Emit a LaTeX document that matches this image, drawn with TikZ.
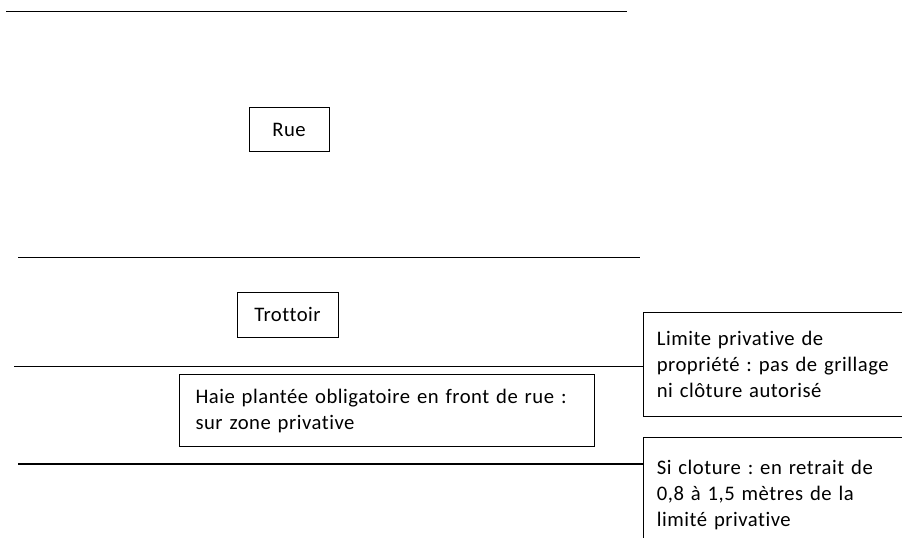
\documentclass[tikz,border=0pt]{standalone}
\usepackage{fontspec}
\setmainfont{Carlito}[LetterSpace=2.5, WordSpace=0.6, Ligatures=NoCommon]
\frenchspacing
\usetikzlibrary{positioning}

\tikzset{
  box/.style={draw, line width=0.75pt, inner sep=0pt, font=\fontsize{15.5}{19.5}\selectfont},
  textbox/.style={box, anchor=north west, align=left, inner xsep=10pt},
  limit/.style={line width=1pt}
}

\begin{document}
\begin{tikzpicture}[x=0.75pt, y=-0.75pt]
  \useasboundingbox (0,0) rectangle (902,538);
  % lignes de la rue
  \coordinate (l1a) at (6,11.5);
  \coordinate (l1b) at (627,11.5);
  \coordinate (l2a) at (18,257.5);
  \coordinate (l2b) at (640,257.5);
  \coordinate (l3) at (14,366.5);
  \coordinate (l4) at (18,464);
  % boites
  \node[box, minimum width=60pt, minimum height=33pt] (rue) at (289,130) {Rue};
  \node[box, minimum width=75.75pt, minimum height=33.75pt] (trottoir) at (287.5,314.5) {Trottoir};
  \node[textbox, text width=287.25pt, inner xsep=12pt, minimum height=54pt] (haie) at (179,374)
    {Haie plantée obligatoire en front de rue :\\ sur zone privative};
  \node[textbox, text width=177pt, minimum height=78pt] (limite) at (643,312)
    {Limite privative de\\ propriété : pas de grillage\\ ni clôture autorisé};
  \node[textbox, text width=177pt, minimum height=85.5pt] (cloture) at (643,437)
    {Si cloture : en retrait de\\ 0,8 à 1,5 mètres de la\\ limité privative};
  % traits
  \draw[limit, line width=1.4pt] (l1a) -- (l1b);
  \draw[limit] (l2a) -- (l2b);
  \draw[limit] (l3) -- (l3 -| limite.west);
  \draw[limit] (l4) -- (l4 -| cloture.west);
\end{tikzpicture}
\end{document}
